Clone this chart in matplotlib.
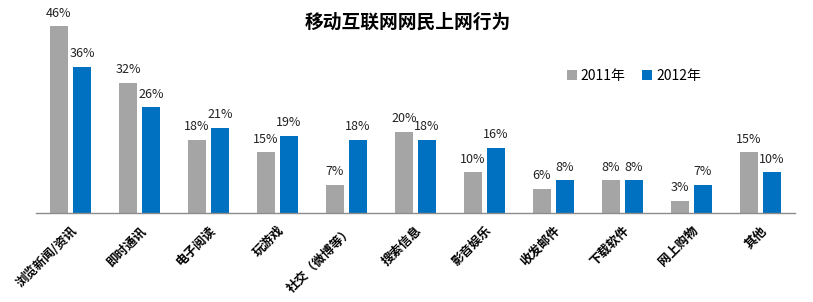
import matplotlib
matplotlib.use("Agg")
import matplotlib.pyplot as plt
import numpy as np

plt.rcParams['font.family'] = ['Noto Sans CJK SC', 'DejaVu Sans']

categories = ["浏览新闻/资讯", "即时通讯", "电子阅读", "玩游戏", "社交（微博等）", "搜索信息",
              "影音娱乐", "收发邮件", "下载软件", "网上购物", "其他"]
v2011 = [46, 32, 18, 15, 7, 20, 10, 6, 8, 3, 15]
v2012 = [36, 26, 21, 19, 18, 18, 16, 8, 8, 7, 10]
series_names = ["2011年", "2012年"]
colors = ["#A5A5A5", "#0070C0"]

W, H = 813, 302
fig = plt.figure(figsize=(W/100, H/100), dpi=100)
ax = fig.add_axes([36/W, (H-213)/H, (795-36)/W, 213/H])

x = np.arange(len(categories))
bw = 0.26
off = 0.167
b1 = ax.bar(x - off, v2011, bw, color=colors[0], label=series_names[0])
b2 = ax.bar(x + off, v2012, bw, color=colors[1], label=series_names[1])

for bars, vals in ((b1, v2011), (b2, v2012)):
    for r, v in zip(bars, vals):
        ax.text(r.get_x() + r.get_width()/2, v + 1.6, f"{v}%", ha='center', va='bottom',
                fontsize=9, color='#222222', clip_on=False)

ax.set_xlim(-0.5, len(categories) - 0.5)
ax.set_ylim(0, 52.4)
for s in ['top', 'right', 'left']:
    ax.spines[s].set_visible(False)
ax.spines['bottom'].set_color('#8C8C8C')
ax.spines['bottom'].set_linewidth(1.0)
ax.set_yticks([])
ax.set_xticks(x)
ax.set_xticklabels(categories, rotation=45, ha='right', rotation_mode='anchor',
                   fontsize=9, fontweight='bold')
ax.tick_params(axis='x', length=0, pad=8)

fig.text(408/W, 1 - 22/H, "移动互联网网民上网行为", ha='center', va='center',
         fontsize=13.5, fontweight='bold')

leg = fig.legend(handles=[b1, b2], labels=series_names, loc='center',
                 bbox_to_anchor=(634/W, 1 - 76/H), ncol=2, frameon=False,
                 fontsize=10, handlelength=0.7, handleheight=0.7, handletextpad=0.3,
                 columnspacing=1.2)

fig.savefig("out.png", dpi=100)
